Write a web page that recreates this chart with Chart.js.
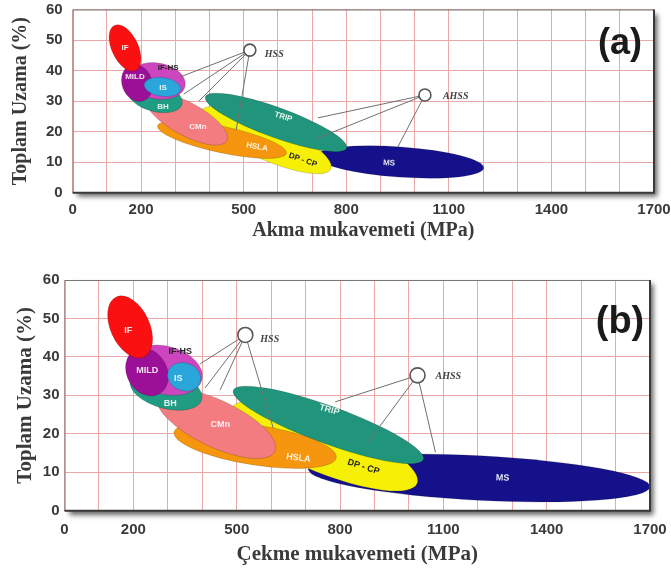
<!DOCTYPE html>
<html><head><meta charset="utf-8">
<script src="https://cdn.jsdelivr.net/npm/chart.js@4.4.1/dist/chart.umd.min.js"></script>
<style>
html,body{margin:0;padding:0;background:#fff;width:671px;height:569px;overflow:hidden;}
#ca{position:absolute;left:0;top:0;}
#cb{position:absolute;left:0;top:270px;}
</style></head><body>
<canvas id="ca" width="671" height="250"></canvas>
<canvas id="cb" width="671" height="299"></canvas>
<script>
// ---------- DATA ----------
const steelGrades = ['MS','DP - CP','TRIP','HSLA','CMn','BH','IF-HS','MILD','IS','IF'];
const xTickLabels = [0,200,500,800,1100,1400,1700];
const yTickValues = [0,10,20,30,40,50,60];

// (a) Akma mukavemeti: major-axis ends [MPa, %], minor/major ratio, label anchor
const yieldAxisStart = [[712,12.0],[375,26.7],[388,31.4],[248,21.9],[215,31.3],[162,33.7],[164,38.2],[169,41.8],[209,35.5],[122,54.8]];
const yieldAxisEnd   = [[1202,8.1],[755,7.8],[801,14.6],[625,12.9],[451,17.0],[320,29.0],[329,35.0],[207,30.1],[316,33.8],[184,40.0]];
const yieldRatio     = [0.18,0.27,0.2,0.2,0.36,0.52,0.63,0.79,0.51,0.53];
const yieldLabelAt   = [[925,9.7],[673,10.7],[616,24.8],[539,15.0],[366,21.5],[264,28.1],[279,40.8],[182,37.9],[264,34.3],[153,47.3]];
const yieldHss = [518,46.7];
const yieldAhss = [1030,32.0];
const yieldHssTargets = [[314,37.9],[325,32.3],[369,30.0],[478,20.5]];
const yieldAhssTargets = [[717,24.5],[711,17.6],[951,15.0]];

// (b) Çekme mukavemeti
const tensileAxisStart = [[708,10.8],[485,26.6],[490,31.3],[318,20.4],[270,29.9],[191,33.9],[185,39.1],[203,41.7],[301,36.3],[150,55.6]];
const tensileAxisEnd   = [[1700,6.2],[1024,7.1],[1042,13.3],[789,13.8],[611,15.4],[399,28.9],[399,34.0],[276,30.4],[394,33.3],[231,40.0]];
const tensileRatio     = [0.13,0.27,0.185,0.244,0.36,0.5,0.63,0.8,0.82,0.59];
const tensileLabelAt   = [[1272,8.5],[868,11.4],[769,26.2],[679,13.7],[452,22.3],[307,28.0],[336,41.4],[240,36.5],[330,34.5],[185,46.9]];
const tensileHss = [525,45.7];
const tensileAhss = [1025,35.2];
const tensileHssTargets = [[394,38.2],[408,31.9],[452,31.4],[606,21.5]];
const tensileAhssTargets = [[786,28.3],[882,17.9],[1077,15.2]];

// ---------- STYLE ----------
const gradeColors = {'MS':'#15118a','DP - CP':'#f6ef06','TRIP':'#21957b','HSLA':'#f6960e','CMn':'#f27c80',
  'BH':'#1f9c82','IF-HS':'#cd46bf','MILD':'#9b1097','IS':'#2aa6da','IF':'#fa1010'};
const darkLabels = ['IF-HS','DP - CP'];

function buildPanel(canvasId, p) {
  const toPt = v => ({x:v[0], y:v[1]});
  const datasets = [{
    data:[toPt(p.hss), toPt(p.ahss)], pointRadius:p.circleR, pointHoverRadius:p.circleR,
    pointBackgroundColor:'#ffffff', pointBorderColor:'#555', pointBorderWidth:1.6, showLine:false
  }];
  p.hssTargets.forEach(t => datasets.push({data:[toPt(p.hss), toPt(t)], showLine:true, borderColor:'#707070', borderWidth:1, pointRadius:0}));
  p.ahssTargets.forEach(t => datasets.push({data:[toPt(p.ahss), toPt(t)], showLine:true, borderColor:'#707070', borderWidth:1, pointRadius:0}));

  const shapes = {
    id:'steelShapes',
    beforeDraw(chart){
      const {ctx, chartArea:a} = chart;
      ctx.save();
      ctx.shadowColor='rgba(0,0,0,0.6)'; ctx.shadowBlur=5; ctx.shadowOffsetX=4; ctx.shadowOffsetY=4;
      ctx.fillStyle='#fff'; ctx.fillRect(a.left,a.top,a.right-a.left,a.bottom-a.top);
      ctx.restore();
    },
    beforeDatasetsDraw(chart){
      const {ctx, chartArea:a, scales:{x,y}} = chart;
      ctx.save();
      ctx.beginPath(); ctx.rect(a.left,a.top,a.right-a.left,a.bottom-a.top); ctx.clip();
      const angs=[];
      steelGrades.forEach((g,i)=>{
        const x1=x.getPixelForValue(p.starts[i][0]), y1=y.getPixelForValue(p.starts[i][1]);
        const x2=x.getPixelForValue(p.ends[i][0]), y2=y.getPixelForValue(p.ends[i][1]);
        const ang=Math.atan2(y2-y1,x2-x1), ra=Math.hypot(x2-x1,y2-y1)/2, rb=ra*p.ratios[i];
        angs.push(ang);
        ctx.beginPath(); ctx.ellipse((x1+x2)/2,(y1+y2)/2,ra,rb,ang,0,Math.PI*2);
        ctx.fillStyle=gradeColors[g]; ctx.fill();
        ctx.lineWidth=0.8; ctx.strokeStyle='rgba(0,0,0,0.2)'; ctx.stroke();
      });
      steelGrades.forEach((g,i)=>{
        const lx=x.getPixelForValue(p.labels[i][0]), ly=y.getPixelForValue(p.labels[i][1]);
        ctx.save(); ctx.translate(lx,ly);
        if (p.ratios[i] < 0.3) ctx.rotate(angs[i]*0.8);
        ctx.font=`bold ${p.labelFont}px "Liberation Sans", Arial, sans-serif`;
        ctx.textAlign='center'; ctx.textBaseline='middle';
        ctx.fillStyle = darkLabels.includes(g) ? '#222' : 'rgba(255,255,255,0.88)';
        ctx.fillText(g,0,0); ctx.restore();
      });
      ctx.restore();
    },
    afterDatasetsDraw(chart){
      const {ctx, scales:{x,y}} = chart;
      ctx.save();
      ctx.font='italic bold 10px "Liberation Serif", serif';
      ctx.fillStyle='#444'; ctx.textBaseline='middle'; ctx.textAlign='left';
      ctx.fillText('HSS', x.getPixelForValue(p.hss[0])+15, y.getPixelForValue(p.hss[1])+4);
      ctx.fillText('AHSS', x.getPixelForValue(p.ahss[0])+18, y.getPixelForValue(p.ahss[1])+1);
      ctx.restore();
    },
    afterDraw(chart){
      const {ctx, chartArea:a} = chart;
      ctx.save();
      ctx.strokeStyle='#777'; ctx.lineWidth=1;
      ctx.beginPath(); ctx.moveTo(a.left+0.5,a.bottom); ctx.lineTo(a.left+0.5,a.top+0.5); ctx.lineTo(a.right,a.top+0.5); ctx.stroke();
      ctx.strokeStyle='#3a3a3a'; ctx.lineWidth=2;
      ctx.beginPath(); ctx.moveTo(a.left,a.bottom); ctx.lineTo(a.right,a.bottom); ctx.lineTo(a.right,a.top); ctx.stroke();
      ctx.font=`bold ${p.letterFont}px "Liberation Sans", Arial, sans-serif`;
      ctx.fillStyle='#1a1a1a'; ctx.textAlign='center'; ctx.textBaseline='middle';
      ctx.fillText(p.letter, p.letterX, p.letterY);
      ctx.restore();
    }
  };

  return new Chart(document.getElementById(canvasId), {
    type:'scatter',
    data:{datasets},
    options:{
      responsive:false, animation:false, devicePixelRatio:1,
      layout:{padding:{left:0, top:p.padTop, right:p.padRight, bottom:0}},
      plugins:{legend:{display:false}, tooltip:{enabled:false}},
      scales:{
        x:{type:'linear', min:0, max:1700,
          afterFit(s){ s.height=p.xAxisHeight; s.paddingLeft=0; s.paddingRight=0; },
          afterBuildTicks(s){ const t=[]; for(let v=0; v<=1700; v+=100) t.push({value:v}); s.ticks=t; },
          ticks:{autoSkip:false, maxRotation:0, padding:p.xTickPad, color:'#3a3a3a',
            font:{family:'"Liberation Sans", Arial, sans-serif', size:15, weight:'bold'},
            callback:v => xTickLabels.includes(v) ? String(v) : ''},
          grid:{color:'#eaa8a8', lineWidth:1, drawTicks:false},
          border:{display:false},
          title:{display:true, text:p.xTitle, color:'#3a3a3a', padding:{top:0, bottom:p.xTitlePad},
            font:{family:'"Liberation Serif", "Times New Roman", serif', size:p.titleFont, weight:'bold'}}
        },
        y:{type:'linear', min:0, max:60,
          afterFit(s){ s.width=p.yAxisWidth; s.paddingTop=0; s.paddingBottom=0; },
          afterBuildTicks(s){ s.ticks = yTickValues.map(v=>({value:v})); },
          ticks:{padding:p.yTickPad, color:'#3a3a3a',
            font:{family:'"Liberation Sans", Arial, sans-serif', size:15, weight:'bold'}},
          grid:{color:'#eaa8a8', lineWidth:1, drawTicks:false},
          border:{display:false},
          title:{display:true, text:'Toplam Uzama (%)', color:'#3a3a3a', padding:{top:p.yTitlePad, bottom:0},
            font:{family:'"Liberation Serif", "Times New Roman", serif', size:p.titleFont, weight:'bold'}}
        }
      }
    },
    plugins:[shapes]
  });
}

buildPanel('ca', {
  starts:yieldAxisStart, ends:yieldAxisEnd, ratios:yieldRatio, labels:yieldLabelAt,
  hss:yieldHss, ahss:yieldAhss, hssTargets:yieldHssTargets, ahssTargets:yieldAhssTargets,
  xTitle:'Akma mukavemeti (MPa)', letter:'(a)', letterX:620, letterY:44, letterFont:36,
  padTop:9.5, padRight:17, xAxisHeight:57.3, yAxisWidth:72.7,
  xTickPad:8, yTickPad:10, xTitlePad:7, yTitlePad:9, titleFont:20, labelFont:8, circleR:6
});
buildPanel('cb', {
  starts:tensileAxisStart, ends:tensileAxisEnd, ratios:tensileRatio, labels:tensileLabelAt,
  hss:tensileHss, ahss:tensileAhss, hssTargets:tensileHssTargets, ahssTargets:tensileAhssTargets,
  xTitle:'Çekme mukavemeti (MPa)', letter:'(b)', letterX:620, letterY:53, letterFont:38,
  padTop:10, padRight:21, xAxisHeight:58.3, yAxisWidth:64.5,
  xTickPad:10, yTickPad:5, xTitlePad:2, yTitlePad:13, titleFont:21, labelFont:9, circleR:7.5
});
</script>
</body></html>
